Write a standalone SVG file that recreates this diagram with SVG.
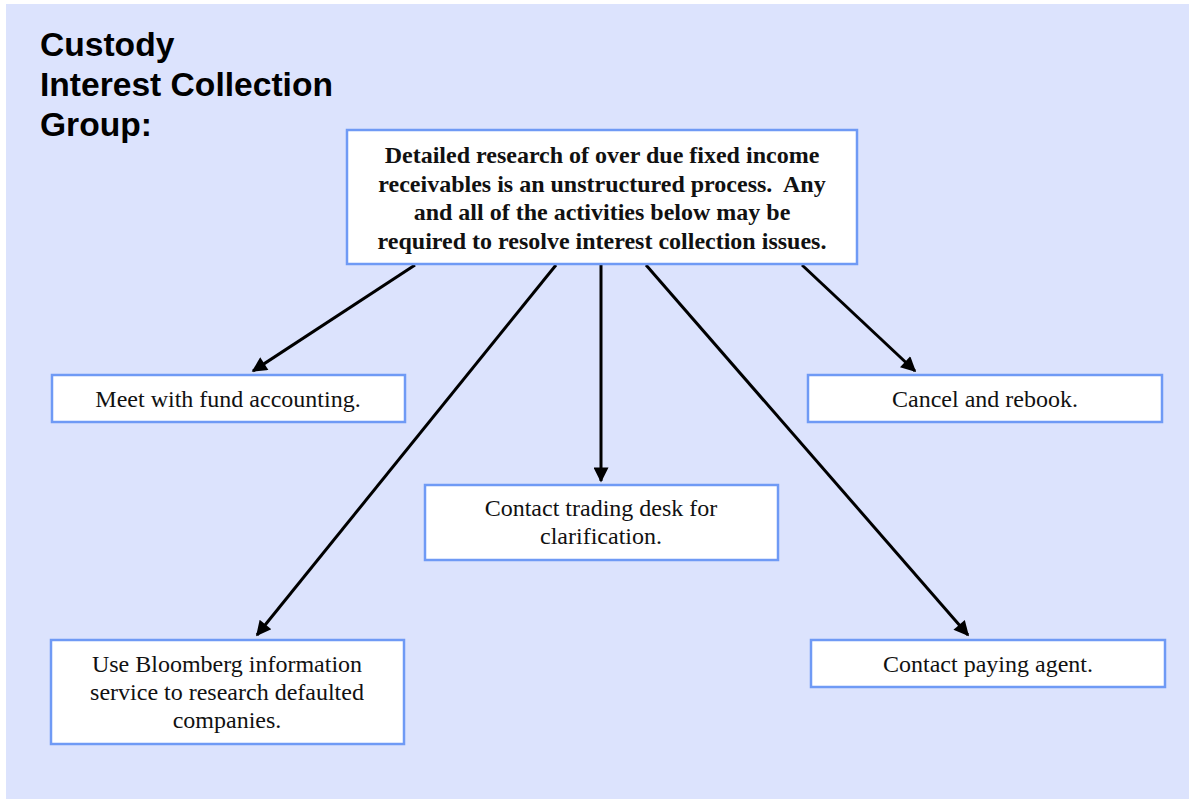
<svg xmlns="http://www.w3.org/2000/svg" width="1189" height="799" viewBox="0 0 1189 799">
  <style>
    .box { fill: #ffffff; stroke: #6f9af5; stroke-width: 2.5; }
    .lbl { font-family: "Liberation Serif", "Times New Roman", serif; font-size: 24px; fill: #111111; text-anchor: middle; white-space: pre; }
    .main { font-weight: bold; }
    .title { font-family: "Liberation Sans", Arial, sans-serif; font-size: 33.6px; font-weight: bold; fill: #000000; }
    .edge { stroke: #000000; stroke-width: 3; fill: none; marker-end: url(#arrow); }
  </style>
  <defs>
    <marker id="arrow" viewBox="0 0 10 10" refX="9" refY="5" markerWidth="6" markerHeight="5" markerUnits="strokeWidth" orient="auto">
      <path d="M0,0 L10,5 L0,10 z" fill="#000000"/>
    </marker>
  </defs>

  <rect x="0" y="0" width="1189" height="799" fill="#ffffff"/>
  <rect x="6" y="4" width="1183" height="795" fill="#dce3fd"/>

  <g id="title">
    <text class="title" x="40" y="56">Custody</text>
    <text class="title" x="40" y="96">Interest Collection</text>
    <text class="title" x="40" y="136">Group:</text>
  </g>

  <g id="connectors">
    <line class="edge" x1="415" y1="265" x2="253" y2="371"/>
    <line class="edge" x1="556" y1="265" x2="257" y2="635"/>
    <line class="edge" x1="601" y1="265" x2="601" y2="481"/>
    <line class="edge" x1="646" y1="265" x2="968" y2="635"/>
    <line class="edge" x1="802" y1="265" x2="915" y2="371"/>
  </g>

  <g id="research">
    <rect class="box" x="347" y="130" width="510" height="134"/>
    <text class="lbl main" x="602" y="163">Detailed research of over due fixed income</text>
    <text class="lbl main" x="602" y="191.5" xml:space="preserve">receivables is an unstructured process.  Any</text>
    <text class="lbl main" x="602" y="220">and all of the activities below may be</text>
    <text class="lbl main" x="602" y="248.5">required to resolve interest collection issues.</text>
  </g>

  <g id="fund-accounting">
    <rect class="box" x="52" y="375" width="353" height="47"/>
    <text class="lbl" x="228" y="407">Meet with fund accounting.</text>
  </g>

  <g id="cancel-rebook">
    <rect class="box" x="808" y="375" width="354" height="47"/>
    <text class="lbl" x="985" y="407">Cancel and rebook.</text>
  </g>

  <g id="trading-desk">
    <rect class="box" x="425" y="485" width="353" height="75"/>
    <text class="lbl" x="601" y="516">Contact trading desk for</text>
    <text class="lbl" x="601" y="544">clarification.</text>
  </g>

  <g id="bloomberg">
    <rect class="box" x="51" y="640" width="353" height="104"/>
    <text class="lbl" x="227" y="672">Use Bloomberg information</text>
    <text class="lbl" x="227" y="700">service to research defaulted</text>
    <text class="lbl" x="227" y="728">companies.</text>
  </g>

  <g id="paying-agent">
    <rect class="box" x="811" y="640" width="354" height="47"/>
    <text class="lbl" x="988" y="672">Contact paying agent.</text>
  </g>
</svg>
